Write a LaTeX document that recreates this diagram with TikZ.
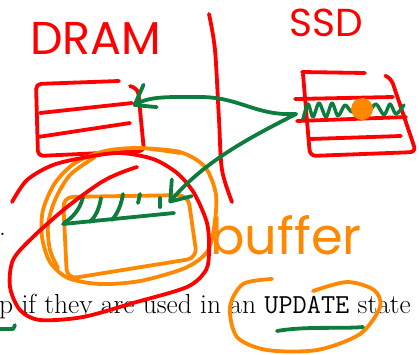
\documentclass[tikz,border=0pt]{standalone}
\usepackage{fontspec}
\newfontfamily\penfont{Poppins}
\usetikzlibrary{arrows.meta}

\definecolor{inkred}{RGB}{255,0,0}
\definecolor{inkgreen}{RGB}{12,125,60}
\definecolor{inkorange}{RGB}{255,136,0}

\begin{document}
\begin{tikzpicture}[
  x=1pt, y=-1pt,
  pen/.style={line width=3.8pt, line cap=round, line join=round},
  redpen/.style={pen, draw=inkred},
  greenpen/.style={pen, draw=inkgreen},
  orangepen/.style={pen, draw=inkorange},
  scrawl/.style={inner sep=0pt},
  arr/.style={-{Straight Barb[length=18pt, width=26pt, round]}},
  body/.style={font=\fontsize{27.5}{30}\selectfont, inner sep=0pt, anchor=base west}
]
\useasboundingbox (0,0) rectangle (419,354);

% printed text underneath the ink
\node[body] (stop) at (-1,235) {.};
\node[body] (line) at (-1,313) {p if they are used in an {\ttfamily UPDATE} state};

% labels
\node[scrawl, text=inkred, font=\penfont\fontsize{46}{46}\selectfont] (dram) at (96,38) {DRAM};
\node[scrawl, text=inkred, font=\penfont\fontsize{39}{39}\selectfont] (ssd) at (326,23) {SSD};
\node[scrawl, text=inkorange, font=\penfont\fontsize{51}{51}\selectfont] (buffer) at (286,235) {buffer};

% divider
\draw[redpen] plot[smooth] coordinates {(209,14) (215,50) (219,120) (222,170) (232,202)};

% DRAM block
\draw[redpen, rounded corners=5pt] (119,81) -- (36,84) -- (38,156) -- (144,151) -- (138,89) -- (130,86);
\draw[redpen] (40,113) -- (132,103);
\draw[redpen] (38,137) -- (130,123);

% SSD block
\draw[redpen] (302,72) -- (365,73);
\draw[redpen, rounded corners=6pt] (303,74) -- (310,156) -- (416,152) -- (391,78) -- (386,76);
\draw[redpen] (295,99) -- (393,97);
\draw[redpen] (297,121) -- (406,117);
\draw[redpen] (310,139) -- (401,136);
\draw[greenpen, line width=3.4pt] plot[smooth, tension=0.5] coordinates {(303,119) (308,104) (313,117) (319,103) (326,117) (332,103) (338,116) (345,105) (352,112) (360,104) (368,112) (376,104) (384,115) (390,104) (396,114) (404,105)};
\fill[inkorange] (362,109) circle (11pt);

% buffer block
\draw[orangepen, rounded corners=10pt] (63,197) -- (188,195) -- (197,258) -- (67,279) -- cycle;
\draw[greenpen] (63,224) -- (174,213);
\draw[greenpen] (83,197) .. controls (80,210) and (72,218) .. (64,223);
\draw[greenpen] (101,198) .. controls (99,210) and (95,217) .. (90,222);
\draw[greenpen] (123,194) .. controls (121,206) and (117,214) .. (112,220);
\draw[greenpen] (140,194) -- (138,203);
\draw[greenpen] (160,198) -- (160,207);

% loops
\draw[orangepen] plot[smooth] coordinates {(140,148) (180,152) (205,167) (216,195) (214,228) (207,252) (185,268) (140,281) (100,284) (68,278) (50,262) (42,237) (43,210) (55,183) (75,163) (105,151) (140,148) (180,153)};
\draw[orangepen] plot[smooth] coordinates {(95,157) (70,175) (55,200) (48,225) (50,250) (58,268)};
\draw[redpen] plot[smooth] coordinates {(12,202) (27,180) (53,165) (87,157) (120,153) (153,159) (177,173) (194,193) (207,223) (209,250) (206,270) (187,287) (133,303) (83,317) (40,320) (20,310) (10,287) (13,260) (33,237) (67,207) (100,183) (120,173) (137,167)};
\draw[orangepen] plot[smooth] coordinates {(272,279) (243,284) (230,307) (237,337) (267,350) (317,350) (360,334) (380,307) (374,290) (347,282) (313,291)};

% underlines
\draw[greenpen] (277,331) .. controls (305,326) and (340,329) .. (363,327);
\draw[greenpen] (-3,329) -- (13,329) -- (15,325);

% transfers
\coordinate (ssdport) at (296,114);
\coordinate (dramport) at (133,106);
\coordinate (bufport) at (169,203);
\draw[greenpen, arr] (ssdport) .. controls (255,116) and (240,97) .. (200,97) .. controls (170,97) and (150,96) .. (dramport);
\draw[greenpen, arr] (ssdport) .. controls (255,135) and (205,160) .. (bufport);
\end{tikzpicture}
\end{document}
